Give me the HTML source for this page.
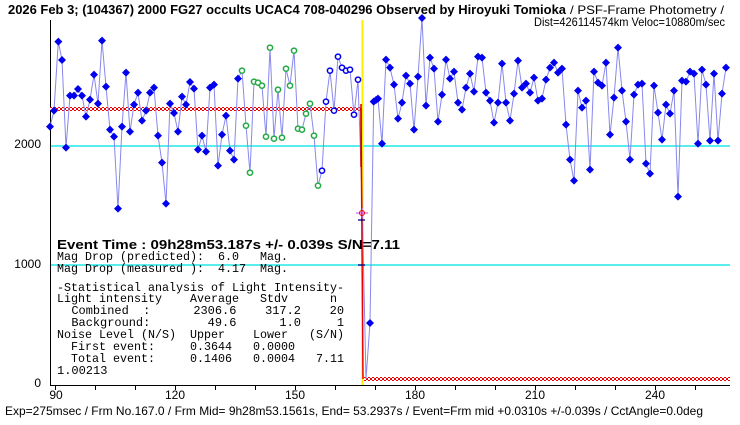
<!DOCTYPE html>
<html><head><meta charset="utf-8"><style>
html,body{margin:0;padding:0;background:#fff;}
svg{display:block;}
text{font-family:"Liberation Sans","Noto Sans CJK JP",sans-serif;fill:#000;}
.m{font-family:"Liberation Mono","Noto Sans CJK JP",monospace;font-size:12px;}
</style></head><body>
<svg id="s" width="740" height="425" viewBox="0 0 740 425" xmlns="http://www.w3.org/2000/svg">
<defs>
<pattern id="chk" width="4" height="4" patternUnits="userSpaceOnUse">
<rect width="4" height="4" fill="#fff"/><rect width="2" height="2" fill="#e00"/><rect x="2" y="2" width="2" height="2" fill="#e00"/>
</pattern>
</defs>
<text x="8" y="14" font-size="13" font-weight="bold" textLength="558" lengthAdjust="spacingAndGlyphs">2026 Feb 3; (104367) 2000 FG27 occults UCAC4 708-040296 Observed by Hiroyuki Tomioka</text>
<text x="570" y="14" font-size="12" textLength="154" lengthAdjust="spacingAndGlyphs">/ PSF-Frame Photometry /</text>
<text x="534" y="26" font-size="12" textLength="191" lengthAdjust="spacingAndGlyphs">Dist=426114574km Veloc=10880m/sec</text>
<line x1="50" y1="146" x2="730" y2="146" stroke="#22e8e8" stroke-width="1.5"/>
<line x1="50" y1="265" x2="730" y2="265" stroke="#22e8e8" stroke-width="1.5"/>
<line x1="50.5" y1="20" x2="50.5" y2="385" stroke="#000"/>
<line x1="50" y1="385.5" x2="730" y2="385.5" stroke="#000"/>
<g id="ticks"></g>
<text x="41" y="148" font-size="12" text-anchor="end">2000</text>
<text x="41" y="268" font-size="12" text-anchor="end">1000</text>
<text x="41" y="387" font-size="12" text-anchor="end">0</text>
<text x="56" y="399" font-size="12" text-anchor="middle">90</text>
<text x="175" y="399" font-size="12" text-anchor="middle">120</text>
<text x="295" y="399" font-size="12" text-anchor="middle">150</text>
<text x="415" y="399" font-size="12" text-anchor="middle">180</text>
<text x="535" y="399" font-size="12" text-anchor="middle">210</text>
<text x="655" y="399" font-size="12" text-anchor="middle">240</text>
<rect x="50" y="107" width="311" height="4" fill="url(#chk)"/>
<rect x="364" y="377" width="366" height="4" fill="url(#chk)"/>
<line x1="362.5" y1="20" x2="362.5" y2="385" stroke="#ffee00" stroke-width="2"/>
<g id="data"></g>
<line x1="361" y1="109" x2="363" y2="379" stroke="#e00" stroke-width="1.5"/>
<line x1="361" y1="104" x2="361" y2="167" stroke="#c00" stroke-width="1.5"/>
<line x1="356" y1="213" x2="368" y2="213" stroke="#e040e0"/>
<line x1="362" y1="208" x2="362" y2="218" stroke="#e040e0"/>
<circle cx="362" cy="213" r="2.5" fill="none" stroke="#e00"/>
<line x1="358" y1="220" x2="365" y2="220" stroke="#000080" stroke-width="1.3"/>
<line x1="358" y1="265" x2="365" y2="265" stroke="#000080" stroke-width="1.3"/>
<text x="57" y="249" font-size="13" font-weight="bold" textLength="343" lengthAdjust="spacingAndGlyphs">Event Time : 09h28m53.187s  +/- 0.039s  S/N=7.11</text>
<text class="m" x="57" y="260" xml:space="preserve" textLength="231" lengthAdjust="spacingAndGlyphs">Mag Drop (predicted):  6.0   Mag.</text>
<text class="m" x="57" y="272" xml:space="preserve" textLength="231" lengthAdjust="spacingAndGlyphs">Mag Drop (measured ):  4.17  Mag.</text>
<text class="m" x="57" y="291" xml:space="preserve" textLength="287" lengthAdjust="spacingAndGlyphs">-Statistical analysis of Light Intensity-</text>
<text class="m" x="57" y="302" xml:space="preserve" textLength="280" lengthAdjust="spacingAndGlyphs">Light intensity    Average   Stdv      n</text>
<text class="m" x="57" y="314" xml:space="preserve" textLength="287" lengthAdjust="spacingAndGlyphs">  Combined  :      2306.6    317.2    20</text>
<text class="m" x="57" y="326" xml:space="preserve" textLength="287" lengthAdjust="spacingAndGlyphs">  Background:        49.6      1.0     1</text>
<text class="m" x="57" y="338" xml:space="preserve" textLength="287" lengthAdjust="spacingAndGlyphs">Noise Level (N/S)  Upper    Lower   (S/N)</text>
<text class="m" x="57" y="350" xml:space="preserve" textLength="238" lengthAdjust="spacingAndGlyphs">  First event:     0.3644   0.0000</text>
<text class="m" x="57" y="362" xml:space="preserve" textLength="287" lengthAdjust="spacingAndGlyphs">  Total event:     0.1406   0.0004   7.11</text>
<text class="m" x="57" y="374" xml:space="preserve">1.00213</text>
<text x="5" y="415" font-size="12" textLength="698" lengthAdjust="spacingAndGlyphs">Exp=275msec / Frm No.167.0 / Frm Mid= 9h28m53.1561s,  End= 53.2937s / Event=Frm mid +0.0310s +/-0.039s / CctAngle=0.0deg</text>
</svg>
<script>
var NS="http://www.w3.org/2000/svg";
var L=[[60,290],[72,242],[85,35],[96,90],[108,353],[120,197],[132,197],[144,177],[156,197],[168,260],[180,209],[192,134],[204,221],[216,32],[228,170],[240,299],[252,320],[264,536],[276,290],[288,128],[300,305],[312,224],[324,188],[336,272],[348,242],[360,188],[372,173],[384,317],[396,398],[408,521],[420,221],[432,249],[444,305],[456,200],[468,224],[480,156],[492,176],[504,359],[516,317],[528,365],[540,173],[552,164],[564,407],[576,314],[588,257],[600,362],[612,389],[624,146],[636,122,'g'],[648,287,'g'],[660,428,'g'],[672,155,'g'],[684,158,'g'],[696,167,'g'],[708,320,'g'],[720,53,'g'],[732,326,'g'],[744,179,'g'],[756,323,'g'],[768,116,'g'],[780,167,'g'],[792,62,'g'],[804,296,'g'],[816,299,'g'],[828,251,'g'],[840,221,'g'],[852,317,'g'],[864,467,'g'],[876,422,'o'],[888,215,'o'],[900,122,'o'],[912,242,'o'],[924,80,'o'],[936,113,'o'],[948,122,'o'],[960,119,'o'],[972,254,'o'],[984,149,'o']];
var pts=[];
L.forEach(function(p){pts.push([30+p[0]/3,30+p[1]/3,p[2]||'b']);});
pts.push([362,197,'n']);pts.push([366,379,'n']);pts.push([370,323,'b']);
var R=[[101,215],[108,210],[114,206],[126,341],[138,89],[150,113],[162,164],[174,266],[186,218],[198,137],[210,161],[222,299],[234,140],[246,-36],[258,227],[270,83],[282,116],[294,275],[306,194],[318,89],[330,146],[342,125],[354,218],[366,239],[378,173],[390,131],[402,185],[414,80],[426,83],[438,188],[450,212],[462,278],[474,218],[486,101],[498,218],[510,272],[522,191],[534,92],[546,173],[558,161],[570,188],[582,143],[594,212],[606,206],[618,149],[630,113],[642,98],[654,128],[666,116],[678,284],[690,389],[702,452],[714,182],[726,233],[738,212],[750,419],[762,125],[774,158],[786,167],[798,98],[810,314],[822,203],[834,53],[846,182],[858,275],[870,389],[882,194],[894,164],[906,161],[918,401],[930,431],[942,167],[954,248],[966,329],[978,224],[990,251],[1002,182],[1014,500],[1026,152],[1038,155],[1050,125],[1062,131],[1074,341],[1086,119],[1098,164],[1110,332],[1122,131],[1134,332],[1146,191],[1158,113]];
R.forEach(function(p){pts.push([340+p[0]/3,30+p[1]/3,'b']);});
var g=document.getElementById('data');
var pl=document.createElementNS(NS,'polyline');
pl.setAttribute('points',pts.map(function(p){return p[0].toFixed(1)+','+p[1].toFixed(1)}).join(' '));
pl.setAttribute('fill','none');pl.setAttribute('stroke','#8888ee');pl.setAttribute('stroke-width','1');
g.appendChild(pl);
pts.forEach(function(p){
 var x=p[0],y=p[1],e;
 if(p[2]=='b'){e=document.createElementNS(NS,'polygon');e.setAttribute('points',x+','+(y-4)+' '+(x+4)+','+y+' '+x+','+(y+4)+' '+(x-4)+','+y);e.setAttribute('fill','#0000ee');}
 else if(p[2]=='g'||p[2]=='o'){e=document.createElementNS(NS,'circle');e.setAttribute('cx',x);e.setAttribute('cy',y);e.setAttribute('r','2.6');e.setAttribute('fill','#fff');e.setAttribute('stroke',p[2]=='g'?'#22aa44':'#0000ee');e.setAttribute('stroke-width','1.5');}
 else return;
 g.appendChild(e);
});
var t=document.getElementById('ticks');
for(var x=55;x<=730;x+=40){var l=document.createElementNS(NS,'line');l.setAttribute('x1',x+.5);l.setAttribute('x2',x+.5);l.setAttribute('y1',385);l.setAttribute('y2',390);l.setAttribute('stroke','#000');t.appendChild(l);}
</script>
</body></html>
